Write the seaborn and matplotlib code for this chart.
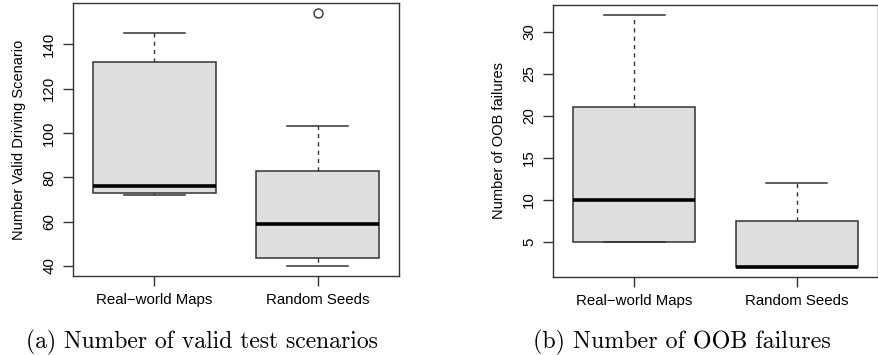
import matplotlib
matplotlib.use("Agg")
import matplotlib.pyplot as plt
import seaborn as sns
import pandas as pd

categories = ["Real\u2212world Maps", "Random Seeds"]

# (a) number of valid test scenarios
valid_real = [72, 72.5, 73, 74, 76, 100, 132, 140, 145]
valid_rand = [40, 42, 43.5, 50, 59, 70, 83, 103, 154]

# (b) number of OOB failures
oob_real = [5, 5, 5, 7, 10, 15, 21, 28, 32]
oob_rand = [2, 2, 2, 2, 2, 5, 7.5, 10, 12]

ylabels = ["Number Valid Driving Scenario", "Number of OOB failures"]
captions = ["(a) Number of valid test scenarios", "(b) Number of OOB failures"]
yticks_a = [40, 60, 80, 100, 120, 140]
yticks_b = [5, 10, 15, 20, 25, 30]

plt.rcParams["font.family"] = ["Liberation Sans", "DejaVu Sans"]

fig = plt.figure(figsize=(8.79, 3.55), dpi=100)
ax1 = fig.add_axes([0.083, 0.2225, 0.371, 0.769])
ax2 = fig.add_axes([0.629, 0.220, 0.370, 0.766])

def make_df(a, b):
    return pd.DataFrame({
        "group": [categories[0]] * len(a) + [categories[1]] * len(b),
        "value": list(a) + list(b),
    })

edge = "#333333"
for ax, (a, b), ylab, yt in [
    (ax1, (valid_real, valid_rand), ylabels[0], yticks_a),
    (ax2, (oob_real, oob_rand), ylabels[1], yticks_b),
]:
    df = make_df(a, b)
    sns.boxplot(
        data=df, x="group", y="value", order=categories, ax=ax,
        color="#dedede", saturation=1, width=0.75, whis=1.5,
        linecolor=edge, linewidth=1.1,
        boxprops=dict(facecolor="#dedede", edgecolor=edge),
        medianprops=dict(color="black", linewidth=2.6),
        whiskerprops=dict(color=edge, linestyle=(0, (3, 3)), linewidth=1),
        capprops=dict(color=edge, linewidth=1.1),
        flierprops=dict(marker="o", markerfacecolor="none",
                        markeredgecolor=edge, markersize=6.5, markeredgewidth=1),
    )
    allv = list(a) + list(b)
    lo, hi = min(allv), max(allv)
    pad = (hi - lo) * 0.04
    ax.set_ylim(lo - pad, hi + pad)
    ax.set_xlim(-0.5, 1.5)
    ax.set_yticks(yt)
    ax.set_yticklabels([str(v) for v in yt], rotation=90, va="center")
    ax.set_xlabel("")
    ax.set_ylabel(ylab, fontsize=10.5, labelpad=12)
    ax.tick_params(axis="both", direction="out", length=7, width=1,
                   color=edge, labelsize=10.8, pad=5)
    for s in ax.spines.values():
        s.set_color(edge)
        s.set_linewidth(1)
        s.set_visible(True)

fig.text(202 / 879, 1 - 342 / 355, captions[0], family="cmr10",
         fontsize=17, ha="center", va="center")
fig.text(682 / 879, 1 - 342 / 355, captions[1], family="cmr10",
         fontsize=17.3, ha="center", va="center")

fig.savefig("out.png", dpi=100)
